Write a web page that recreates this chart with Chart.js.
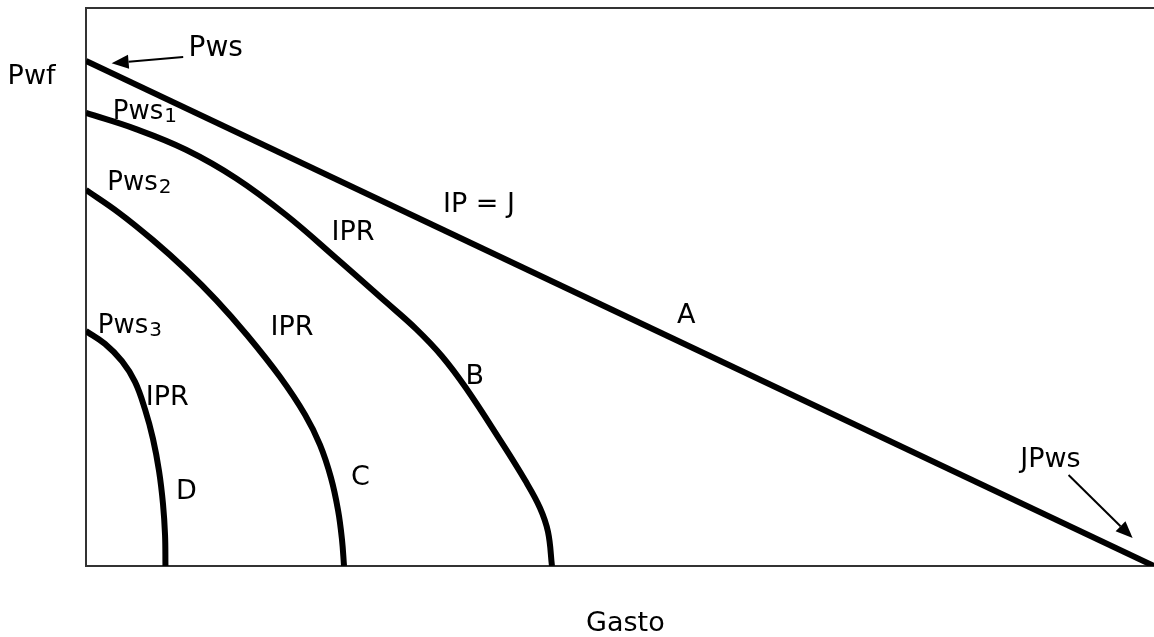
<!DOCTYPE html>
<html>
<head>
<meta charset="utf-8">
<script src="https://cdn.jsdelivr.net/npm/chart.js@4/dist/chart.umd.min.js"></script>
<style>
  html, body { margin: 0; padding: 0; background: #fff; }
</style>
</head>
<body>
<canvas id="ipr" width="1154" height="637"></canvas>
<script>
// Gasto (q) against Pwf, both on a unitless 0-100 scale
const gastoA = [0, 100];
const pwfA = [90.5, 0];

const gastoB = [0, 4.68, 9.36, 14.04, 18.73, 23.41, 28.09, 30.9, 33.33, 35.58, 38.76, 41.1, 42.51, 43.26, 43.63];
const pwfB = [81.2, 78.3, 74.6, 69.5, 62.9, 55.2, 47.3, 42.5, 37.6, 31.9, 22.6, 15.4, 10.4, 6.1, 0];

const gastoC = [0, 3.09, 6.27, 9.36, 12.17, 15.07, 18.16, 20.51, 21.91, 22.94, 23.6, 23.97, 24.16];
const pwfC = [67.4, 63.3, 58.4, 53.1, 47.7, 41.4, 33.9, 27.1, 21.7, 15.8, 10.0, 4.7, 0];

const gastoD = [0, 1.78, 3.37, 4.59, 5.52, 6.27, 6.84, 7.21, 7.40, 7.44];
const pwfD = [42.1, 39.8, 36.7, 33.0, 28.1, 22.8, 17.0, 11.1, 5.6, 0];

// text placed on the plot (data coordinates, centred)
const notes = [
  { text: "IP = J", x: 36.8, y: 64.7 },
  { text: "IPR", x: 25.0, y: 59.7 },
  { text: "IPR", x: 19.3, y: 42.7 },
  { text: "IPR", x: 7.6, y: 30.1 },
  { text: "A", x: 56.2, y: 44.8 },
  { text: "B", x: 36.4, y: 33.9 },
  { text: "C", x: 25.7, y: 15.8 },
  { text: "D", x: 9.4, y: 13.3 },
  { text: "JPws", x: 90.3, y: 19.0 },
  { text: "Pwf", x: -5.1, y: 87.6 },
  { text: "Gasto", x: 50.5, y: -10.4 },
];

// static pressure labels (left edge, baseline)
const pwsNotes = [
  { text: "Pws", sub: "", x: 9.6, y: 91.4, size: 28 },
  { text: "Pws", sub: "1", x: 2.5, y: 80.1, size: 26 },
  { text: "Pws", sub: "2", x: 2.0, y: 67.4, size: 26 },
  { text: "Pws", sub: "3", x: 1.1, y: 41.8, size: 26 },
];

const arrows = [
  { from: [9.1, 91.2], to: [2.4, 90.1] },
  { from: [92.0, 16.3], to: [98.0, 5.0] },
];

const toPoints = (xs, ys) => xs.map((x, i) => ({ x: x, y: ys[i] }));

function curve(label, xs, ys) {
  return {
    label: label,
    data: toPoints(xs, ys),
    borderColor: "#000",
    borderWidth: 6,
    pointRadius: 0,
    tension: 0.4,
    fill: false,
  };
}

const FONT = '"DejaVu Sans", Verdana, sans-serif';

const annotate = {
  id: "annotate",
  afterDatasetsDraw(chart) {
    const ctx = chart.ctx;
    const sx = chart.scales.x;
    const sy = chart.scales.y;
    ctx.save();
    ctx.fillStyle = "#000";

    ctx.font = "27px " + FONT;
    ctx.textAlign = "center";
    ctx.textBaseline = "middle";
    notes.forEach((n) => {
      ctx.fillText(n.text, sx.getPixelForValue(n.x), sy.getPixelForValue(n.y));
    });

    ctx.textAlign = "left";
    ctx.textBaseline = "alphabetic";
    pwsNotes.forEach((n) => {
      const px = sx.getPixelForValue(n.x);
      const py = sy.getPixelForValue(n.y);
      ctx.font = n.size + "px " + FONT;
      ctx.fillText(n.text, px, py);
      if (n.sub) {
        const w = ctx.measureText(n.text).width;
        ctx.font = Math.round(n.size * 0.76) + "px " + FONT;
        ctx.fillText(n.sub, px + w + 1, py + 3);
      }
    });

    // arrows with filled heads
    ctx.strokeStyle = "#000";
    ctx.lineWidth = 2;
    arrows.forEach((a) => {
      const x1 = sx.getPixelForValue(a.from[0]);
      const y1 = sy.getPixelForValue(a.from[1]);
      const x2 = sx.getPixelForValue(a.to[0]);
      const y2 = sy.getPixelForValue(a.to[1]);
      const ang = Math.atan2(y2 - y1, x2 - x1);
      const len = 17, half = 7;
      const bx = x2 - len * Math.cos(ang);
      const by = y2 - len * Math.sin(ang);
      ctx.beginPath();
      ctx.moveTo(x1, y1);
      ctx.lineTo(bx, by);
      ctx.stroke();
      ctx.beginPath();
      ctx.moveTo(x2, y2);
      ctx.lineTo(bx + half * Math.sin(ang), by - half * Math.cos(ang));
      ctx.lineTo(bx - half * Math.sin(ang), by + half * Math.cos(ang));
      ctx.closePath();
      ctx.fill();
    });
    ctx.restore();
  },
};

const hiddenAxis = (position, fit) => ({
  type: "linear",
  position: position,
  min: 0,
  max: 100,
  ticks: { display: false },
  grid: { display: false, drawTicks: false },
  border: { display: true, color: "#333", width: 2 },
  afterFit: fit,
});

new Chart(document.getElementById("ipr"), {
  type: "line",
  data: {
    datasets: [
      curve("A", gastoA, pwfA),
      curve("B", gastoB, pwfB),
      curve("C", gastoC, pwfC),
      curve("D", gastoD, pwfD),
    ],
  },
  options: {
    responsive: false,
    devicePixelRatio: 1,
    animation: false,
    layout: { padding: 0 },
    plugins: {
      legend: { display: false },
      tooltip: { enabled: false },
    },
    scales: {
      x: hiddenAxis("bottom", (s) => { s.height = 71; }),
      xTop: hiddenAxis("top", (s) => { s.height = 8; }),
      y: hiddenAxis("left", (s) => { s.width = 86; }),
    },
  },
  plugins: [annotate],
});
</script>
</body>
</html>
